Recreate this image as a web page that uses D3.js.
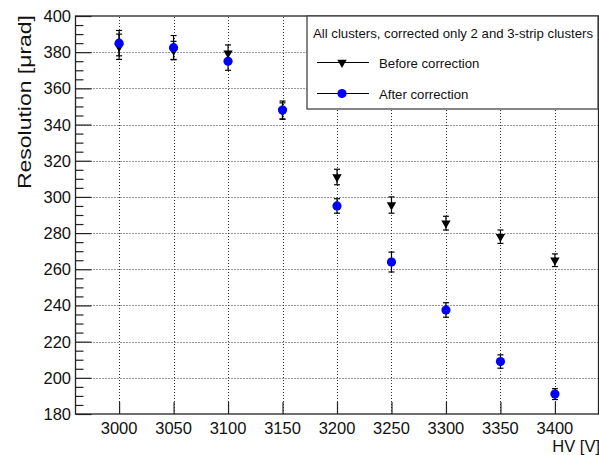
<!DOCTYPE html>
<html>
<head>
<meta charset="utf-8">
<script src="https://cdn.jsdelivr.net/npm/d3@7"></script>
<style>
  body { margin: 0; background: #fff; }
  svg { font-family: "Liberation Sans", Arial, sans-serif; }
</style>
</head>
<body>
<svg id="chart" width="599" height="455"></svg>
<script>
// data
const hv = [3000, 3050, 3100, 3150, 3200, 3250, 3300, 3350, 3400];
const before = [383, 381, 379.5, 347.5, 311, 295.5, 285.5, 278, 265];
const beforeErr = [7, 5, 4.5, 4.5, 4.3, 4.5, 3.8, 3.7, 3.5];
const after = [385, 382.5, 375, 348, 295, 264, 237.5, 209, 191];
const afterErr = [7, 6.7, 5, 5, 4, 5.5, 4, 3.7, 3];
const xTicks = [3000, 3050, 3100, 3150, 3200, 3250, 3300, 3350, 3400];
const yTicks = [180, 200, 220, 240, 260, 280, 300, 320, 340, 360, 380, 400];
const legendTitle = "All clusters, corrected only 2 and 3-strip clusters";
const seriesNames = ["Before correction", "After correction"];

const svg = d3.select('#chart');
const x = d3.scaleLinear().domain([2960, 3440]).range([75.5, 598.5]);
const y = d3.scaleLinear().domain([180, 400]).range([414, 16]);

// grid
const grid = svg.append('g').attr('stroke', '#333').attr('stroke-width', 1)
    .attr('stroke-dasharray', '1,2');
grid.selectAll('.gx').data(xTicks).enter().append('line')
    .attr('x1', d => Math.round(x(d)) + 0.5).attr('x2', d => Math.round(x(d)) + 0.5)
    .attr('y1', y(180)).attr('y2', y(400));
grid.selectAll('.gy').data(yTicks.slice(1, -1)).enter().append('line')
    .attr('y1', d => Math.round(y(d)) + 0.5).attr('y2', d => Math.round(y(d)) + 0.5)
    .attr('x1', x(2960)).attr('x2', x(3440));

// axes
const minor = d3.range(180, 401, 5).filter(v => v % 20 !== 0);
const yMinor = svg.append('g').attr('transform', `translate(${x(2960)},0)`)
    .call(d3.axisRight(y).tickValues(minor).tickSize(8).tickFormat(''));
const yMajor = svg.append('g').attr('transform', `translate(${x(2960)},0)`)
    .call(d3.axisRight(y).tickValues(yTicks).tickSize(16).tickFormat(''));
const xMajor = svg.append('g').attr('transform', `translate(0,${y(180)})`)
    .call(d3.axisTop(x).tickValues(xTicks).tickSize(12).tickFormat(''));
[yMinor, yMajor, xMajor].forEach(a => {
    a.select('.domain').remove();
    a.selectAll('line').attr('stroke', '#222').attr('stroke-width', 1.2);
});

// tick labels
svg.append('g').selectAll('text').data(yTicks).enter().append('text')
    .attr('x', 71).attr('y', d => y(d) + 6)
    .attr('text-anchor', 'end').attr('font-size', 16.5).attr('fill', '#111')
    .text(d => d);
svg.append('g').selectAll('text').data(xTicks).enter().append('text')
    .attr('x', d => x(d)).attr('y', 434)
    .attr('text-anchor', 'middle').attr('font-size', 16.5).attr('fill', '#111')
    .text(d => d);

// axis titles
svg.append('text').attr('x', 600).attr('y', 452).attr('text-anchor', 'end')
    .attr('font-size', 16.5).attr('fill', '#111').text('HV [V]');
svg.append('text').attr('transform', 'translate(31,15) rotate(-90)')
    .attr('text-anchor', 'end').attr('font-size', 17.5).attr('fill', '#111')
    .attr('textLength', 174).attr('lengthAdjust', 'spacingAndGlyphs')
    .text('Resolution [\u03bcrad]');

// frame
svg.append('rect').attr('x', x(2960)).attr('y', y(400))
    .attr('width', x(3440) - x(2960)).attr('height', y(180) - y(400))
    .attr('fill', 'none').attr('stroke', '#222').attr('stroke-width', 1.3);

// series
const triangle = d3.symbol().type(d3.symbolTriangle).size(38);
function drawSeries(vals, errs, kind) {
    const g = svg.append('g');
    const pts = hv.map((h, i) => ({ h: h, v: vals[i], e: errs[i] }));
    const eb = g.selectAll('.eb').data(pts).enter().append('g')
        .attr('stroke', '#000').attr('stroke-width', 1.2);
    eb.append('line').attr('x1', d => x(d.h)).attr('x2', d => x(d.h))
        .attr('y1', d => y(d.v - d.e)).attr('y2', d => y(d.v + d.e));
    eb.append('line').attr('x1', d => x(d.h) - 3).attr('x2', d => x(d.h) + 3)
        .attr('y1', d => y(d.v - d.e)).attr('y2', d => y(d.v - d.e));
    eb.append('line').attr('x1', d => x(d.h) - 3).attr('x2', d => x(d.h) + 3)
        .attr('y1', d => y(d.v + d.e)).attr('y2', d => y(d.v + d.e));
    if (kind === 'tri') {
        g.selectAll('.m').data(pts).enter().append('path')
            .attr('d', triangle)
            .attr('transform', d => `translate(${x(d.h)},${y(d.v)}) rotate(180)`)
            .attr('fill', '#000');
    } else {
        g.selectAll('.m').data(pts).enter().append('circle')
            .attr('cx', d => x(d.h)).attr('cy', d => y(d.v)).attr('r', 4.6)
            .attr('fill', '#0000ff');
    }
}
drawSeries(before, beforeErr, 'tri');
drawSeries(after, afterErr, 'circ');

// legend
const lg = svg.append('g');
lg.append('rect').attr('x', 307).attr('y', 16).attr('width', 291).attr('height', 93)
    .attr('fill', '#fff').attr('stroke', '#444').attr('stroke-width', 1.3);
lg.append('text').attr('x', 313).attr('y', 37.5).attr('font-size', 13.2)
    .attr('fill', '#111').text(legendTitle);
seriesNames.forEach((name, i) => {
    const cy = 62.5 + i * 31;
    lg.append('line').attr('x1', 317).attr('x2', 369).attr('y1', cy).attr('y2', cy)
        .attr('stroke', '#000').attr('stroke-width', 1.2);
    if (i === 0) {
        lg.append('path').attr('d', triangle)
            .attr('transform', `translate(342,${cy}) rotate(180)`).attr('fill', '#000');
    } else {
        lg.append('circle').attr('cx', 342).attr('cy', cy).attr('r', 4.6).attr('fill', '#0000ff');
    }
    lg.append('text').attr('x', 379).attr('y', cy + 5).attr('font-size', 13.2)
        .attr('fill', '#111').text(name);
});
</script>
</body>
</html>
